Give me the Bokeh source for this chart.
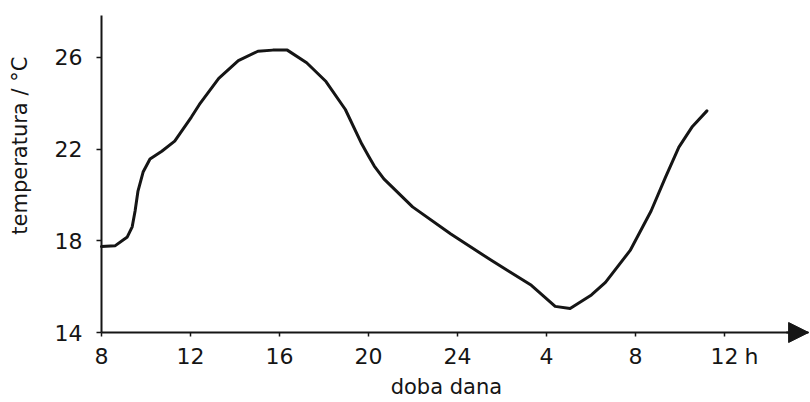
import math
from bokeh.plotting import figure
from bokeh.models import Range1d, FixedTicker, Label, Arrow, NormalHead
from bokeh.embed import file_html
from bokeh.resources import INLINE

# time of day in continuous hours (8 h -> 36 h = 12 h next day)
hours = [8.0, 8.62, 9.16, 9.38, 9.51, 9.64, 9.87, 10.18, 10.71, 11.29, 12.04,
         12.4, 13.27, 14.15, 15.03, 15.7, 16.35, 17.22, 18.09, 18.96, 19.7,
         20.0, 20.26, 20.69, 21.98, 23.7, 25.5, 27.32, 28.39, 29.06, 30.02,
         30.65, 31.76, 32.7, 33.35, 33.95, 34.56, 35.21]
temps = [17.75, 17.79, 18.17, 18.61, 19.3, 20.17, 21.0, 21.57, 21.91, 22.35,
         23.4, 23.95, 25.09, 25.86, 26.27, 26.32, 26.32, 25.77, 24.95, 23.73,
         22.22, 21.7, 21.26, 20.7, 19.48, 18.3, 17.16, 16.06, 15.14, 15.05,
         15.64, 16.19, 17.58, 19.3, 20.78, 22.09, 22.99, 23.67]

x_ticks = [8, 12, 16, 20, 24, 28, 32, 36]
x_tick_labels = ["8", "12", "16", "20", "24", "4", "8", "12"]
y_ticks = [14, 18, 22, 26]
x_title = "doba dana"
y_title = "temperatura / °C"
unit_label = "h"

FONT = "DejaVu Sans"
INK = "#151515"
X0, X1 = 8, 39.78     # extent of the x axis (arrow tip at X1)
Y0, Y1 = 14, 27.83    # extent of the y axis

p = figure(width=810, height=402, output_backend="svg", toolbar_location=None,
           x_range=Range1d(3.461, 39.865), y_range=Range1d(10.946, 28.485),
           min_border=0)
p.outline_line_color = None
p.grid.grid_line_color = None
p.background_fill_color = "white"
p.border_fill_color = "white"

for ax in (p.xaxis[0], p.yaxis[0]):
    ax.axis_line_width = 2
    ax.axis_line_color = INK
    ax.major_tick_line_color = INK
    ax.major_tick_line_width = 1.5
    ax.major_tick_in = 0
    ax.major_tick_out = 5
    ax.minor_tick_line_color = None
    ax.major_label_text_font = FONT
    ax.major_label_text_font_size = "22px"
    ax.major_label_text_color = INK

p.xaxis.fixed_location = Y0
p.xaxis.bounds = (X0, X1)
p.xaxis.ticker = FixedTicker(ticks=x_ticks)
p.xaxis.major_label_overrides = {t: s for t, s in zip(x_ticks, x_tick_labels)}
p.xaxis.major_label_standoff = 11
p.xaxis.major_tick_out = 4
p.yaxis.fixed_location = X0
p.yaxis.bounds = (Y0, Y1)
p.yaxis.ticker = FixedTicker(ticks=y_ticks)
p.yaxis.major_label_standoff = 14

p.line(hours, temps, line_width=3, line_color=INK, line_join="round", line_cap="round")

# arrow at end of x axis
p.add_layout(Arrow(end=NormalHead(size=20, fill_color=INK, line_color=INK),
                   x_start=X1 - 1.0, y_start=Y0, x_end=X1, y_end=Y0,
                   line_width=2, line_color=INK))

# unit "h" after last tick label
p.add_layout(Label(x=x_ticks[-1], y=Y0, x_offset=27, y_offset=-11, text=unit_label,
                   text_font=FONT, text_font_size="22px", text_color=INK,
                   text_align="center", text_baseline="top"))

# axis titles
p.add_layout(Label(x=23.5, y=Y0, y_offset=-54, text=x_title,
                   text_font=FONT, text_font_size="21px", text_color=INK,
                   text_align="center", text_baseline="middle"))
p.add_layout(Label(x=X0, y=22.15, x_offset=-81, text=y_title, angle=math.pi / 2,
                   text_font=FONT, text_font_size="21px", text_color=INK,
                   text_align="center", text_baseline="middle"))

open("out.html", "w").write(file_html(p, INLINE))
